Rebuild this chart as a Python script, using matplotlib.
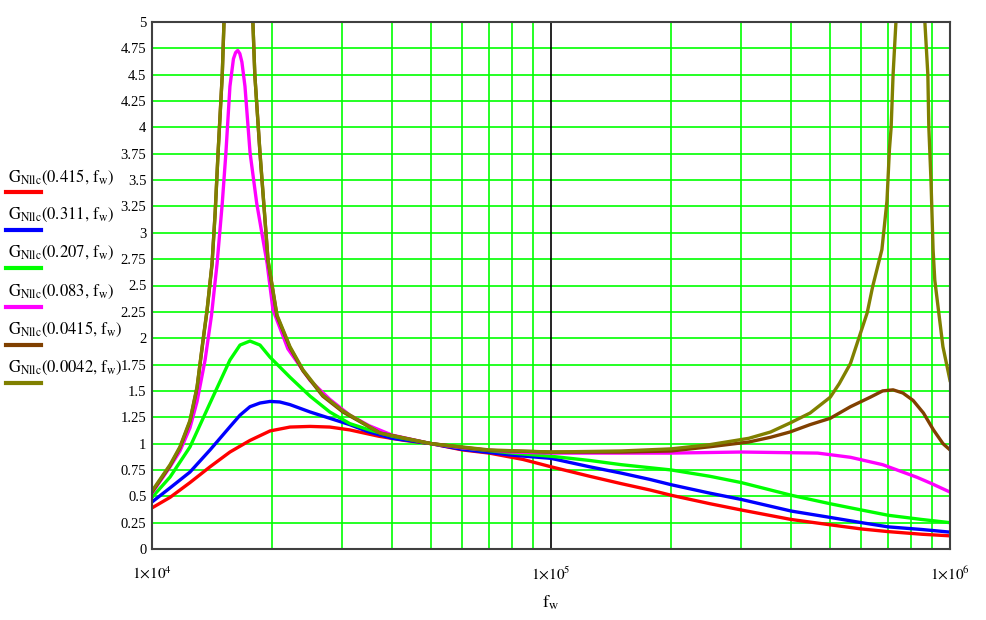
import numpy as np
import matplotlib
matplotlib.use("Agg")
import matplotlib.pyplot as plt
from matplotlib.lines import Line2D
from matplotlib.ticker import LogLocator, NullFormatter

plt.rcParams['font.family'] = ['Liberation Serif', 'DejaVu Serif']
plt.rcParams['mathtext.fontset'] = 'stix'

# values (frequency in Hz, normalised gain)
f_0415 = [1e4, 1.11e4, 1.245e4, 1.398e4, 1.568e4, 1.76e4, 1.976e4, 2.217e4, 2.49e4, 2.79e4,
          3.13e4, 3.7e4, 4.3e4, 5e4, 6e4, 7e4, 8.5e4, 1e5, 1.25e5, 1.5e5, 1.77e5, 2e5,
          2.5e5, 3e5, 4e5, 5e5, 6e5, 7e5, 8.5e5, 1e6]
g_0415 = [0.39, 0.49, 0.63, 0.78, 0.92, 1.03, 1.12, 1.157, 1.163, 1.157,
          1.13, 1.07, 1.03, 1.0, 0.94, 0.91, 0.85, 0.78, 0.69, 0.62, 0.56, 0.51,
          0.43, 0.37, 0.28, 0.23, 0.19, 0.165, 0.14, 0.125]

f_0311 = [1e4, 1.11e4, 1.245e4, 1.398e4, 1.568e4, 1.662e4, 1.76e4, 1.865e4, 1.976e4, 2.09e4,
          2.217e4, 2.49e4, 2.79e4, 3.13e4, 3.5e4, 4e4, 5e4, 6e4, 8e4, 1e5, 1.25e5, 1.5e5,
          1.77e5, 2e5, 2.5e5, 3e5, 4e5, 5e5, 6e5, 7e5, 8.5e5, 1e6]
g_0311 = [0.446, 0.58, 0.73, 0.94, 1.16, 1.27, 1.35, 1.385, 1.40, 1.395,
          1.37, 1.30, 1.24, 1.18, 1.11, 1.05, 1.0, 0.945, 0.89, 0.86, 0.78, 0.72,
          0.66, 0.61, 0.53, 0.47, 0.36, 0.30, 0.25, 0.21, 0.185, 0.16]

f_0207 = [1e4, 1.11e4, 1.245e4, 1.398e4, 1.568e4, 1.662e4, 1.76e4, 1.865e4, 1.976e4, 2.217e4,
          2.49e4, 2.79e4, 3.13e4, 3.5e4, 4e4, 5e4, 6e4, 8e4, 1e5, 1.25e5, 1.5e5, 2e5,
          2.5e5, 3e5, 4e5, 5e5, 6e5, 7e5, 8.5e5, 1e6]
g_0207 = [0.49, 0.683, 0.968, 1.385, 1.793, 1.935, 1.973, 1.935, 1.82, 1.63,
          1.45, 1.30, 1.19, 1.13, 1.07, 1.0, 0.96, 0.91, 0.88, 0.84, 0.80, 0.75,
          0.69, 0.63, 0.51, 0.43, 0.37, 0.32, 0.28, 0.25]

f_0083 = [1e4, 1.11e4, 1.175e4, 1.245e4, 1.297e4, 1.358e4, 1.41e4, 1.456e4, 1.5e4, 1.532e4,
          1.568e4, 1.6e4, 1.62e4, 1.64e4, 1.66e4, 1.68e4, 1.71e4, 1.761e4, 1.83e4, 1.943e4,
          2.01e4, 2.19e4, 2.49e4, 2.79e4, 3.13e4, 3.5e4, 4e4, 5e4, 6e4, 8e4, 1e5, 1.5e5,
          2e5, 3e5, 4.66e5, 5.63e5, 6.78e5, 8.27e5, 9e5, 1e6]
g_0083 = [0.53, 0.78, 0.93, 1.15, 1.40, 1.79, 2.22, 2.71, 3.28, 3.76,
          4.39, 4.65, 4.71, 4.73, 4.70, 4.62, 4.39, 3.76, 3.28, 2.71,
          2.27, 1.90, 1.60, 1.42, 1.27, 1.17, 1.08, 1.0, 0.96, 0.92, 0.91, 0.91,
          0.91, 0.92, 0.91, 0.87, 0.80, 0.68, 0.62, 0.54]

f_00415 = [1e4, 1.11e4, 1.175e4, 1.245e4, 1.297e4, 1.342e4, 1.374e4, 1.414e4, 1.44e4, 1.464e4,
           1.5e4, 1.515e4, 1.6e4, 1.7e4, 1.79e4, 1.81e4, 1.865e4, 1.954e4, 2.057e4, 2.217e4,
           2.39e4, 2.68e4, 3.01e4, 3.73e4, 5e4, 7e4, 1e5, 1.5e5, 2e5, 2.5e5, 3.13e5, 3.55e5,
           3.97e5, 4.46e5, 5.01e5, 5.63e5, 6.31e5, 6.78e5, 7.2e5, 7.62e5, 8.08e5, 8.58e5,
           9.09e5, 9.6e5, 1e6]
g_00415 = [0.54, 0.79, 0.96, 1.21, 1.53, 1.97, 2.26, 2.70, 3.19, 3.75,
           4.5, 5.0, 9.0, 9.0, 5.0, 4.5, 3.75, 2.73, 2.21, 1.91,
           1.69, 1.45, 1.30, 1.10, 1.0, 0.935, 0.92, 0.92, 0.93, 0.97, 1.015, 1.06,
           1.11, 1.18, 1.24, 1.35, 1.44, 1.50, 1.51, 1.48, 1.41, 1.29,
           1.13, 1.0, 0.94]

f_00042 = [1e4, 1.11e4, 1.175e4, 1.245e4, 1.297e4, 1.342e4, 1.374e4, 1.414e4, 1.44e4, 1.464e4,
           1.5e4, 1.515e4, 1.6e4, 1.7e4, 1.79e4, 1.81e4, 1.865e4, 1.954e4, 2.057e4, 2.217e4,
           2.39e4, 2.68e4, 3.01e4, 3.73e4, 5e4, 7e4, 1e5, 1.5e5, 2e5, 2.5e5, 3.13e5, 3.55e5,
           3.97e5, 4.46e5, 5.01e5, 5.28e5, 5.63e5, 5.92e5, 6.2e5, 6.4e5, 6.75e5, 6.95e5,
           7.05e5, 7.12e5, 7.2e5, 7.32e5, 7.8e5, 8.2e5, 8.65e5, 8.8e5, 8.85e5, 8.96e5,
           9.07e5, 9.16e5, 9.6e5, 1e6]
g_00042 = [0.55, 0.80, 0.97, 1.22, 1.54, 1.98, 2.27, 2.71, 3.20, 3.76,
           4.5, 5.0, 9.0, 9.0, 5.0, 4.5, 3.76, 2.74, 2.22, 1.92,
           1.70, 1.46, 1.31, 1.10, 1.0, 0.94, 0.92, 0.93, 0.95, 0.99, 1.05, 1.11,
           1.195, 1.29, 1.44, 1.57, 1.76, 2.01, 2.24, 2.49, 2.84, 3.3,
           3.79, 4.0, 4.5, 5.0, 9.0, 9.0, 5.0, 4.5, 4.0, 3.5,
           2.84, 2.55, 1.92, 1.6]

series = [
    ("0.415", f_0415, g_0415, "#ff0000"),
    ("0.311", f_0311, g_0311, "#0000ff"),
    ("0.207", f_0207, g_0207, "#00ff00"),
    ("0.083", f_0083, g_0083, "#ff00ff"),
    ("0.0415", f_00415, g_00415, "#804000"),
    ("0.0042", f_00042, g_00042, "#808000"),
]

fig = plt.figure(figsize=(9.87, 6.2), dpi=100)
ax = fig.add_axes([152 / 987, 71 / 620, 798 / 987, 527 / 620])

ax.set_xscale('log')
ax.set_xlim(1e4, 1e6)
ax.set_ylim(0, 5)

# grid: green everywhere, black major line at 1e5
ax.xaxis.set_minor_locator(LogLocator(base=10, subs=np.arange(2, 10)))
ax.xaxis.set_minor_formatter(NullFormatter())
ax.grid(which='minor', axis='x', color='#00ff00', lw=1.2)
ax.grid(which='major', axis='y', color='#00ff00', lw=1.2)
ax.axvline(1e5, color='black', lw=1.2)
ax.set_axisbelow(True)

for name, f, g, c in series:
    ax.plot(f, g, color=c, lw=2.4, solid_joinstyle='round')

yt = np.arange(0, 5.01, 0.25)
ax.set_yticks(yt)
ax.set_yticklabels(['%g' % v for v in yt], fontsize=10.5)
ax.set_xticks([1e4, 1e5, 1e6])
ax.set_xticklabels([r'$1{\times}10^{4}$', r'$1{\times}10^{5}$', r'$1{\times}10^{6}$'],
                   fontsize=11)
ax.tick_params(which='both', length=0)
ax.tick_params(axis='y', pad=4)
ax.tick_params(axis='x', pad=12)
ax.set_xlabel(r'$\mathrm{f_w}$', fontsize=13, labelpad=8)

for sp in ax.spines.values():
    sp.set_color('#404040')
    sp.set_linewidth(1.5)

# legend on the left: label above a short coloured line
for i, (name, f, g, c) in enumerate(series):
    ty = 177 + i * 38.2
    ly = 192 + i * 38.2
    fig.text(8 / 987, 1 - ty / 620,
             r'$\mathrm{G_{Nllc}}\left(' + name + r',\,\mathrm{f_w}\right)$',
             fontsize=12, ha='left', va='center')
    fig.add_artist(Line2D([6 / 987, 41 / 987], [1 - ly / 620, 1 - ly / 620],
                          color=c, lw=3, transform=fig.transFigure))

fig.savefig('out.png', dpi=100)
